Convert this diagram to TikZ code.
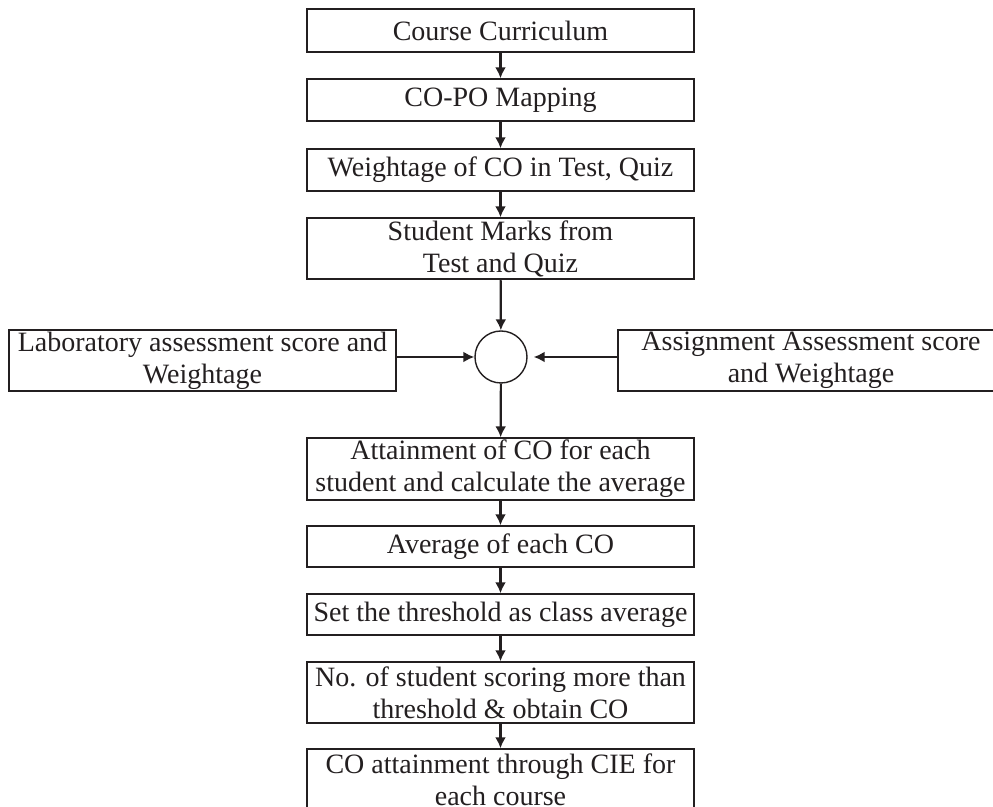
\documentclass[tikz,border=0pt]{standalone}
\usepackage{fontspec}
\setmainfont{Liberation Serif}
\usetikzlibrary{arrows.meta}
\definecolor{ink}{HTML}{231F20}
\begin{document}
\begin{tikzpicture}[x=0.5pt,y=-0.5pt,
  stepbox/.style={draw=ink, line width=0.7pt, minimum width=193.5pt, inner sep=0pt,
    align=center, text=ink, font=\fontsize{14}{16}\selectfont},
  joint/.style={draw=ink, line width=0.7pt, circle, minimum size=26pt, inner sep=0pt},
  flow/.style={draw=ink, line width=1.1pt, -{Latex[length=5.5pt,width=5.5pt]}}]
\useasboundingbox (0,0) rectangle (993,807);
\clip (0,0) rectangle (993,807);

% main column
\node[stepbox, minimum height=21.5pt] (b1) at (500.5,30.5) {Course Curriculum};
\node[stepbox, minimum height=21pt]   (b2) at (500.5,100) {CO-PO Mapping};
\node[stepbox, minimum height=21pt]   (b3) at (500.5,170) {Weightage of CO in Test, Quiz};
\node[stepbox, minimum height=30.5pt] (b4) at (500.5,248.5) {Student Marks from\\Test and Quiz};

% summing junction with the two side inputs
\node[joint] (c) at (501,357) {};
\node[stepbox, minimum height=30.5pt] (lab) at (202.5,360.5) {Laboratory assessment score and\\Weightage};
\node[stepbox, minimum height=30.5pt, minimum width=193pt] (asg) at (811,360.5) {Assignment Assessment score\\and Weightage};

% lower column
\node[stepbox, minimum height=31pt]   (b5) at (500.5,469) {Attainment of CO for each\\student and calculate the average};
\node[stepbox, minimum height=20.5pt] (b6) at (500.5,546.5) {Average of each CO};
\node[stepbox, minimum height=20.5pt] (b7) at (500.5,614.5) {Set the threshold as class average};
\node[stepbox, minimum height=30.5pt] (b8) at (500.5,692.5) {No. of student scoring more than\\threshold \& obtain CO};
% the last box runs past the lower edge; its top stays at 749
\node[stepbox, minimum height=31pt] (b9) at (500.5,780) {CO attainment through CIE for\\each course};

% connectors
\draw[flow] (b1) -- (b2);
\draw[flow] (b2) -- (b3);
\draw[flow] (b3) -- (b4);
\draw[flow] (b4) -- (c);
\draw[flow] (lab.east |- c) -- (c.west);
\draw[flow] (asg.west |- c) -- ([xshift=3pt]c.east);
\draw[flow] (c) -- (b5);
\draw[flow] (b5) -- (b6);
\draw[flow] (b6) -- (b7);
\draw[flow] (b7) -- (b8);
\draw[flow] (b8) -- (b9);
\end{tikzpicture}
\end{document}
